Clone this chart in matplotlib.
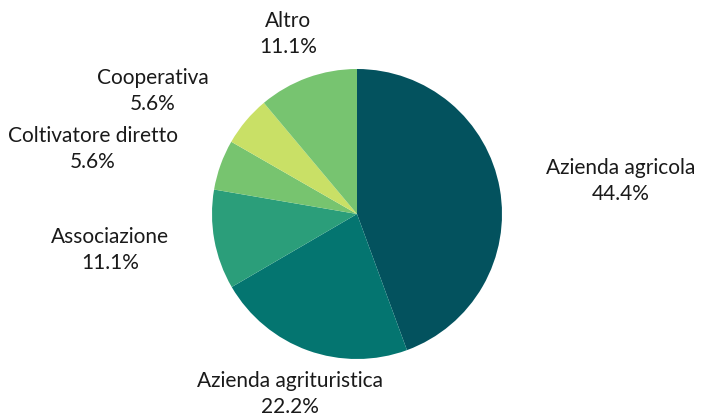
import matplotlib.pyplot as plt

labels = ['Azienda agricola', 'Azienda agrituristica', 'Associazione',
          'Coltivatore diretto', 'Cooperativa', 'Altro']
values = [44.4, 22.2, 11.1, 5.6, 5.6, 11.1]
colors = ['#03525e', '#047570', '#2b9e7a', '#77c46f', '#c9e066', '#77c470']
# label centres, pixel units from the top-left of the image
label_xy = [(621, 181), (290, 394), (110, 250), (93, 149), (153, 91), (288, 34)]

plt.rcParams['font.family'] = ['Lato', 'DejaVu Sans']

W, H = 702, 416
fig = plt.figure(figsize=(W / 100, H / 100), dpi=100)
ax = fig.add_axes([0, 0, 1, 1])
ax.pie(values, colors=colors, startangle=90, counterclock=False,
       center=(357, H - 214), radius=145, frame=True,
       wedgeprops={'linewidth': 0})
ax.set_xlim(0, W)
ax.set_ylim(0, H)
ax.set_aspect('equal')
ax.axis('off')

for lab, v, (x, y) in zip(labels, values, label_xy):
    ax.text(x, H - y, '%s\n%.1f%%' % (lab, v), ha='center', va='center',
            fontsize=15, color='#1a1a1a', linespacing=1.4)

fig.savefig('out.png', dpi=100)
